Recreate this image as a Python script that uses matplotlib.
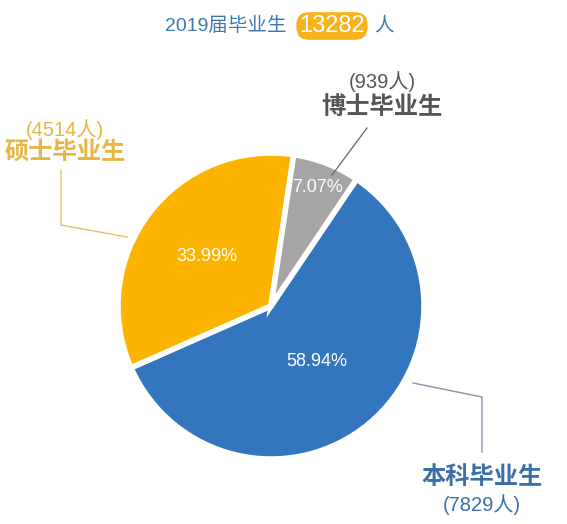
import matplotlib
matplotlib.use("Agg")
import matplotlib.pyplot as plt
import numpy as np

plt.rcParams['font.family'] = ['Liberation Sans', 'Noto Sans CJK SC', 'DejaVu Sans']

# data
labels = ['本科毕业生', '硕士毕业生', '博士毕业生']
counts = [7829, 4514, 939]
total = sum(counts)
colors = ['#3476bd', '#fdb400', '#a6a5a6']
text_colors = ['#3b6fa8', '#e8b640', '#555557']

W, H = 567, 524
def Y(y):  # picture rows -> data y
    return H - y

fig = plt.figure(figsize=(W / 100, H / 100), dpi=100)
ax = fig.add_axes([0, 0, 1, 1])

wedges, _, autotexts = ax.pie(
    counts, colors=colors, startangle=56, counterclock=False,
    explode=[0.035, 0.035, 0.04], radius=153, center=(271, Y(306)),
    autopct='%.2f%%', wedgeprops=dict(edgecolor='white', linewidth=4),
    textprops=dict(color='white', fontsize=13))

# move percent labels along each wedge's middle angle
pct_dist = [0.47, 0.53, 0.83]
for w, t, d in zip(wedges, autotexts, pct_dist):
    th = np.radians((w.theta1 + w.theta2) / 2)
    cx, cy = w.center
    t.set_position((cx + d * w.r * np.cos(th), cy + d * w.r * np.sin(th)))
    t.set_ha('center')
    t.set_va('center')

ax.set_xlim(0, W)
ax.set_ylim(0, H)
ax.axis('off')

# title
title_blue = '#3d78b5'
ax.text(286, Y(26), '2019届毕业生', color=title_blue, fontsize=14,
        ha='right', va='center')
ax.text(332, Y(26), str(total), color='white', fontsize=17, ha='center', va='center',
        bbox=dict(boxstyle='round,pad=0.12,rounding_size=0.55', fc='#f7b21c', ec='none'))
ax.text(374, Y(26), '人', color=title_blue, fontsize=14, ha='left', va='center')

# category labels
lab_pos = [(482, 478, 505), (65, 152, 130), (382, 107, 82)]
for (x, yname, ycount), name, n, c in zip(lab_pos, labels, counts, text_colors):
    ax.text(x, Y(yname), name, color=c, fontsize=17.5, ha='center', va='center',
            fontweight='bold')
    ax.text(x, Y(ycount), '(%d人)' % n, color=c, fontsize=14.5, ha='center', va='center')

# leader lines
ax.plot([413, 482, 482], [Y(383), Y(397), Y(452)], color='#8495a8', lw=1)
ax.plot([61, 61, 127], [Y(170), Y(225), Y(237)], color='#e5b85a', lw=0.9)
ax.plot([367, 332], [Y(128), Y(175)], color='#666666', lw=0.9)

fig.savefig('out.png', dpi=100)
